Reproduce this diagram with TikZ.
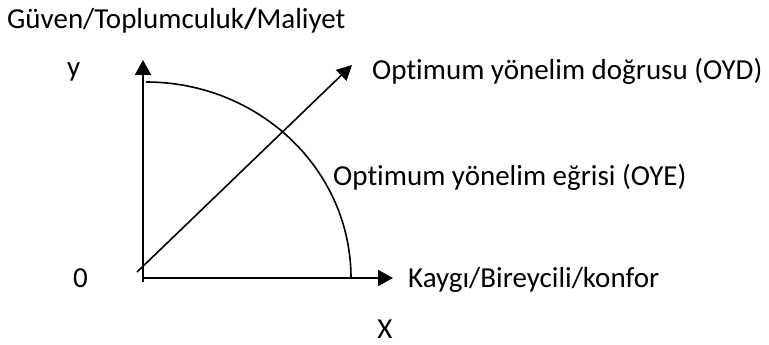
\documentclass[tikz,border=0pt]{standalone}
\usepackage{fontspec}
\setmainfont{Carlito}[RawFeature={-liga}]
\usetikzlibrary{arrows.meta}
\begin{document}
\begin{tikzpicture}[x=1pt,y=-1pt,
  lbl/.style={anchor=base west,inner sep=0pt,font=\fontsize{29}{34}\selectfont},
  axis/.style={line width=2pt,-{Triangle[length=15pt,width=16pt]}},
  diag/.style={line width=1.6pt,-{Triangle[length=15pt,width=15pt]}},
  curve/.style={line width=1.6pt}]
\useasboundingbox (0,0) rectangle (769,345);
\coordinate (ybot) at (143,282);
\coordinate (ytop) at (143,60);
\coordinate (xleft) at (143,278);
\coordinate (xright) at (393,278);
\coordinate (dstart) at (137,272);
\coordinate (dend) at (352,65);
\coordinate (arctop) at (146,82);
\draw[axis] (ybot) -- (ytop);
\draw[axis] (xleft) -- (xright);
\draw[diag] (dstart) -- (dend);
\draw[curve] (arctop) arc[start angle=90,end angle=0,x radius=205pt,y radius=196pt];
\node[lbl] (title) at (7,29) {Güven/Toplumculuk{\bfseries/}Maliyet};
\node[lbl] (ylab) at (67,77) {y};
\node[lbl] (oyd) at (372,80) {Optimum yönelim doğrusu (OYD)};
\node[lbl] (oye) at (333,185) {Optimum yönelim eğrisi (OYE)};
\node[lbl] (zero) at (73,287) {0};
\node[lbl] (xlab) at (408,287) {Kaygı/Bireycili/konfor};
\node[lbl,anchor=base] (X) at (385,338) {X};
\end{tikzpicture}
\end{document}
